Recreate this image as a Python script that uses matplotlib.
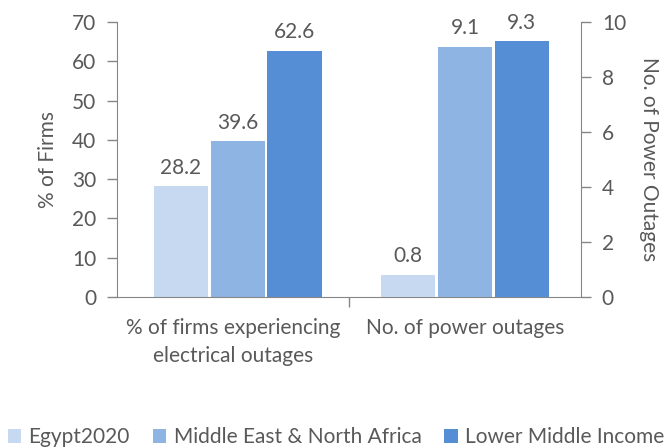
import matplotlib
matplotlib.use("Agg")
import matplotlib.pyplot as plt
import numpy as np
from matplotlib.patches import Patch

categories = ["% of firms experiencing\nelectrical outages", "No. of power outages"]
series = ["Egypt2020", "Middle East & North Africa", "Lower Middle Income"]
pct_firms = [28.2, 39.6, 62.6]        # left axis
power_outages = [0.8, 9.1, 9.3]       # right axis
colors = ["#C6D9F0", "#8EB4E3", "#558ED5"]

plt.rcParams['font.family'] = ['Lato', 'DejaVu Sans']
txt = "#595959"
spine_c = "#868686"
fs = 15

fig = plt.figure(figsize=(6.72, 4.48), dpi=100)
ax = fig.add_axes([117/672, 1-297/448, (581-117)/672, (297-22)/448])
ax2 = ax.twinx()

w = 0.233
step = 0.245
offs = [-step, 0, step]
for i, (s, c) in enumerate(zip(series, colors)):
    x0 = 0.02 + offs[i]
    ax.bar(x0, pct_firms[i], width=w, color=c, zorder=2)
    ax.text(x0, pct_firms[i] + 2.2, f"{pct_firms[i]:.1f}", ha="center", va="bottom",
            color=txt, fontsize=fs)
    x1 = 1 + offs[i]
    ax2.bar(x1, power_outages[i], width=w, color=c, zorder=2)
    ax2.text(x1, power_outages[i] + 0.31, f"{power_outages[i]:.1f}", ha="center", va="bottom",
             color=txt, fontsize=fs)

ax.set_xlim(-0.5, 1.5)
ax.set_ylim(0, 70)
ax2.set_ylim(0, 10)
ax.set_yticks(np.arange(0, 71, 10))
ax2.set_yticks(np.arange(0, 11, 2))
ax.set_xticks([0.5])
ax.set_xticklabels([""])
ax.tick_params(axis='x', length=7, color=spine_c, width=1)
for i, cat in enumerate(categories):
    ax.text(i, -5.3, cat, ha="center", va="top", color=txt, fontsize=fs, linespacing=1.5)

ax.tick_params(axis='y', colors=txt, labelsize=fs, length=7, color=spine_c, width=1, pad=8)
ax2.tick_params(axis='y', colors=txt, labelsize=fs, length=7, color=spine_c, width=1, pad=8)
for a in (ax, ax2):
    a.spines['top'].set_visible(False)
    for sp in ('left', 'right', 'bottom'):
        a.spines[sp].set_color(spine_c)
ax.spines['right'].set_visible(False)
ax2.spines['left'].set_visible(False)
ax2.spines['bottom'].set_visible(False)

ax.set_ylabel("% of Firms", color=txt, fontsize=fs, labelpad=10)
ax2.set_ylabel("No. of Power Outages", color=txt, fontsize=fs, rotation=-90, labelpad=24)

handles = [Patch(facecolor=c, edgecolor='none') for c in colors]
fig.legend(handles, series, loc="center", bbox_to_anchor=(0.5, 1-437/448), ncol=3,
           frameon=False, fontsize=fs, labelcolor=txt, handlelength=0.65, handleheight=0.65,
           handletextpad=0.35, columnspacing=1.1, borderaxespad=0)

fig.savefig("out.png", dpi=100)
